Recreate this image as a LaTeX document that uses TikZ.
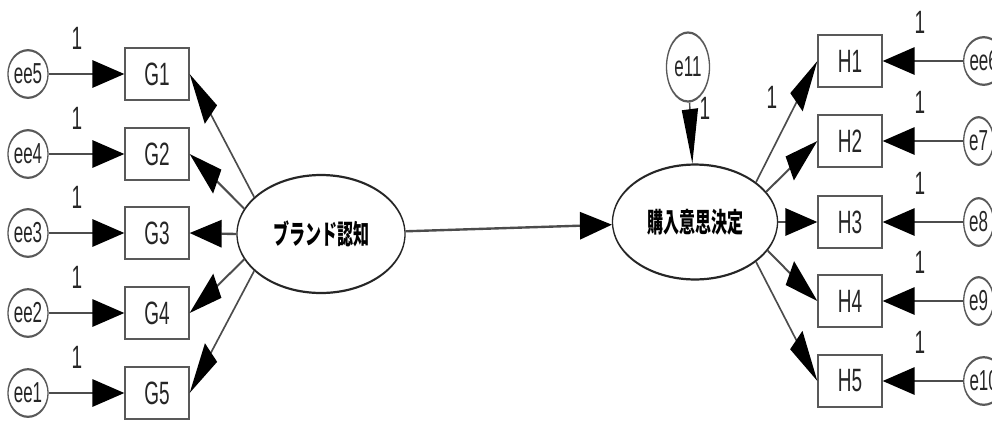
\documentclass[tikz,border=0pt]{standalone}
\usepackage{fontspec}
\setmainfont{Liberation Sans}
\newfontfamily\cjk{Noto Sans CJK JP}
\usetikzlibrary{arrows.meta,shapes.geometric}
\tikzset{
  obsbox/.style={draw=black!65, line width=1.3pt, minimum width=64pt, minimum height=30.6pt,
    inner sep=0pt, font=\fontsize{19}{19}\selectfont, text=black!85},
  errnode/.style={ellipse, draw=black!65, line width=1.3pt, minimum width=30pt, minimum height=28pt,
    inner sep=0pt, font=\fontsize{17}{17}\selectfont, text=black!85},
  latnode/.style={ellipse, draw=black!85, line width=1.3pt, inner sep=0pt,
    font=\cjk\bfseries\fontsize{16}{16}\selectfont},
  pathline/.style={draw=black!70, line width=1.4pt, -{Triangle[length=32pt,width=16pt,color=black]}},
  wlabel/.style={font=\fontsize{19}{19}\selectfont, inner sep=0pt, text=black!85}
}
\begin{document}
\begin{tikzpicture}[x=1pt,y=-1pt]
\useasboundingbox (0,0) rectangle (992,426);
\clip (0,0) rectangle (992,426);
\fill[white] (0,0) rectangle (992,426);
\begin{scope}[transform canvas={yscale=1.7}, y=-0.58824pt]
  % latent variables
  \node[latnode, minimum width=168pt, minimum height=69.4pt] (L) at (321,234) {ブランド認知};
  \node[latnode, minimum width=165pt, minimum height=67.6pt] (R) at (695,222) {購入意思決定};
  % left indicators
  \foreach \i/\y/\e/\a in {1/74/ee5/162, 2/154/ee4/169, 3/233/ee3/180, 4/313/ee2/191, 5/393/ee1/198} {
    \node[obsbox] (G\i) at (157,\y) {G\i};
    \node[errnode] (eg\i) at (28,\y) {\e};
    \draw[pathline] (eg\i) -- (G\i);
    \draw[pathline] (L.\a) -- (G\i.east);
    \node[wlabel] (wg\i) at (77,\y-36) {1};
  }
  % right indicators
  \foreach \i/\y/\e/\a in {1/61/ee6/21, 2/141/e7/14, 3/222/e8/0, 4/301/e9/-13, 5/381/e10/-21} {
    \node[obsbox] (H\i) at (850,\y) {H\i};
    \node[errnode, anchor=west] (eh\i) at (963,\y) {\e};
    \draw[pathline] (eh\i) -- (H\i);
    \draw[pathline] (R.\a) -- (H\i.west);
    \node[wlabel] (wh\i) at (920,\y-39) {1};
  }
  \node[wlabel] (wr1) at (772,97) {1};
  % structural path
  \draw[pathline] (L) -- (R);
  % disturbance
  \node[errnode, minimum width=43pt, minimum height=40.6pt] (e11) at (688,67) {e11};
  \draw[pathline] (e11) -- (R);
  \node[wlabel] (w11) at (705,108) {1};
\end{scope}
\end{tikzpicture}
\end{document}
